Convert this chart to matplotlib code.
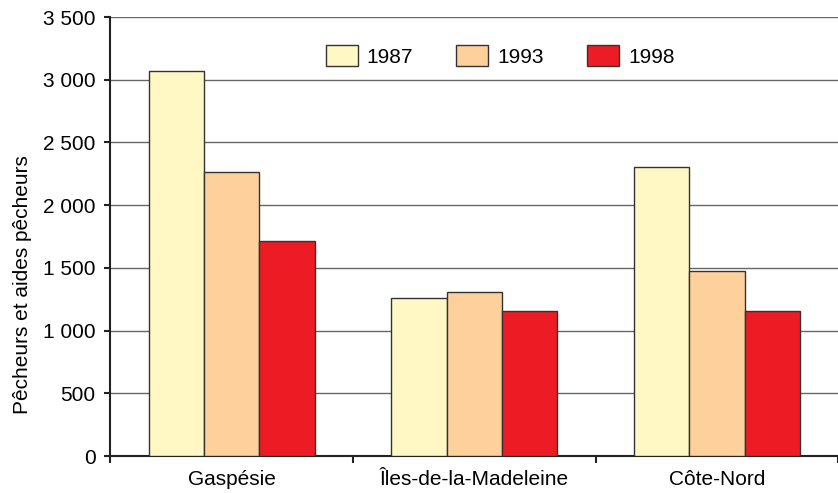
import numpy as np
import matplotlib.pyplot as plt

plt.rcParams['font.family'] = ['Liberation Sans', 'DejaVu Sans']

regions = ['Gaspésie', 'Îles-de-la-Madeleine', 'Côte-Nord']
years = ['1987', '1993', '1998']
v1987 = [3072, 1262, 2306]
v1993 = [2262, 1305, 1475]
v1998 = [1712, 1156, 1156]
colors = ['#FFF8C4', '#FDD09C', '#ED1C24']
yticks = [0, 500, 1000, 1500, 2000, 2500, 3000, 3500]

fs = 15

fig = plt.figure(figsize=(8.38, 4.93), dpi=100)
ax = fig.add_axes([0.1315, 0.075, 0.869, 0.8905])

x = np.arange(len(regions))
w = 0.228
for i, (vals, lab) in enumerate(zip([v1987, v1993, v1998], years)):
    ax.bar(x + (i - 1) * w, vals, w, color=colors[i], edgecolor='#333333',
           linewidth=1, label=lab, zorder=3)

ax.set_xlim(-0.5, 2.5)
ax.set_ylim(0, 3500)
ax.set_yticks(yticks)
ax.set_yticklabels([f'{v:,}'.replace(',', ' ') for v in yticks], fontsize=fs)
ax.yaxis.grid(True, color='#666666', linewidth=1, zorder=0)

ax.set_xticks([-0.5, 0.5, 1.5, 2.5])
ax.set_xticklabels([])
ax.set_xticks(x, minor=True)
ax.set_xticklabels(regions, minor=True, fontsize=fs)
ax.tick_params(axis='x', which='minor', length=0, pad=10)
ax.tick_params(axis='x', which='major', length=5, width=1.5, color='#222222')
ax.tick_params(axis='y', length=4.5, width=1.5, color='#222222', pad=6)

for s in ['top', 'right']:
    ax.spines[s].set_visible(False)
for s in ['left', 'bottom']:
    ax.spines[s].set_linewidth(1.5)
    ax.spines[s].set_color('#222222')

ax.set_ylabel('Pêcheurs et aides pêcheurs', fontsize=fs)
ax.yaxis.set_label_coords(-0.108, 0.39)

ax.legend(loc='center left', bbox_to_anchor=(325.7 / 838, 1 - 56 / 493),
          bbox_transform=fig.transFigure, ncol=3, frameon=False,
          fontsize=fs, handlelength=1.54, handleheight=1.15, columnspacing=2.07,
          handletextpad=0.43, borderpad=0, borderaxespad=0)

fig.savefig('out.png', dpi=100)
